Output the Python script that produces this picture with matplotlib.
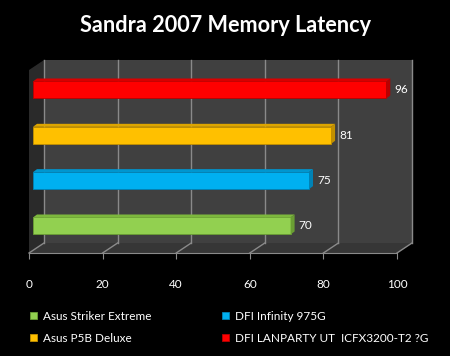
import matplotlib.pyplot as plt
from matplotlib.patches import Polygon, Patch

plt.rcParams["font.family"] = ["Lato", "DejaVu Sans"]

# ── Data ──────────────────────────────────────────────────────────
boards = ["Asus Striker Extreme", "DFI Infinity 975G", "Asus P5B Deluxe",
          "DFI LANPARTY UT  ICFX3200-T2 ?G"]
latency = [70, 75, 81, 96]
colors = ["#92D050", "#00B0F0", "#FFC000", "#FF0000"]
tops = ["#7DB83D", "#0096CF", "#DDA500", "#D80000"]
sides = ["#6A9E33", "#0082B5", "#C29000", "#B80000"]
legend_order = [0, 2, 1, 3]  # column-first: green, yellow | blue, red

xticks = [0, 20, 40, 60, 80, 100]
title = "Sandra 2007 Memory Latency"

# ── Figure geometry (pixels at 100 dpi) ───────────────────────────
W, H = 450, 356
fig = plt.figure(figsize=(W / 100, H / 100), dpi=100, facecolor="black")
ax = fig.add_axes([29 / W, 103 / H, 368 / W, 183 / H])
ax.set_facecolor("none")
YMIN, YMAX = -0.596, 3.441
ax.set_xlim(0, 100)
ax.set_ylim(YMIN, YMAX)

PX_X = 100 / 368
PX_Y = (YMAX - YMIN) / 183
DXW, DYW = 15 * PX_X, 10 * PX_Y    # wall depth
DXB, DYB = 4 * PX_X, 3 * PX_Y      # bar depth
BAR_OFF = 4 * PX_X
BAR_H = 17 * PX_Y

# walls
back = Polygon([(DXW, YMIN + DYW), (100 + DXW, YMIN + DYW),
                (100 + DXW, YMAX + DYW), (DXW, YMAX + DYW)],
               closed=True, fc="#404040", ec="none", clip_on=False, zorder=0)
floor = Polygon([(0, YMIN), (100, YMIN), (100 + DXW, YMIN + DYW), (DXW, YMIN + DYW)],
                closed=True, fc="#363636", ec="none", clip_on=False, zorder=0)
left = Polygon([(0, YMIN), (DXW, YMIN + DYW), (DXW, YMAX + DYW), (0, YMAX)],
               closed=True, fc="#2A2A2A", ec="none", clip_on=False, zorder=0)
for p in (back, floor, left):
    ax.add_patch(p)

for x in xticks:
    ax.plot([x + DXW, x + DXW], [YMIN + DYW, YMAX + DYW], color="#8A8A8A",
            lw=1, clip_on=False, zorder=1)
    ax.plot([x, x + DXW], [YMIN, YMIN + DYW], color="#8A8A8A",
            lw=1, clip_on=False, zorder=1)

# bars
ypos = list(range(len(latency)))
bars = ax.barh(ypos, latency, height=BAR_H, left=BAR_OFF, color=colors,
               edgecolor=sides, lw=0.6, zorder=3)
for y, v, tc, sc in zip(ypos, latency, tops, sides):
    yb, yt = y - BAR_H / 2, y + BAR_H / 2
    xe = BAR_OFF + v
    ax.add_patch(Polygon([(BAR_OFF, yt), (xe, yt), (xe + DXB, yt + DYB),
                          (BAR_OFF + DXB, yt + DYB)], closed=True, fc=tc,
                         ec="none", zorder=3, clip_on=False))
    ax.add_patch(Polygon([(xe, yb), (xe, yt), (xe + DXB, yt + DYB),
                          (xe + DXB, yb + DYB)], closed=True, fc=sc,
                         ec="none", zorder=3, clip_on=False))
    ax.text(xe + DXB + 4 * PX_X, y, str(v), color="white", fontsize=8.5,
            va="center", ha="left", zorder=4)

# axis
for s in ("top", "right", "left"):
    ax.spines[s].set_visible(False)
ax.spines["bottom"].set_color("#8A8A8A")
ax.set_yticks([])
ax.set_xticks(xticks)
ax.tick_params(axis="x", colors="#8A8A8A", length=4, pad=15, labelcolor="white",
               labelsize=8.5)

fig.text(0.5, 1 - 25 / H, title, color="white", fontsize=15.6, fontweight="bold",
         ha="center", va="center")

handles = [Patch(fc=colors[i], ec=sides[i], lw=0.6) for i in legend_order]
labels = [boards[i] for i in legend_order]
fig.legend(handles, labels, ncol=2, loc="upper left",
           bbox_to_anchor=(19 / W, 1 - 300 / H), frameon=False, fontsize=8.5,
           labelcolor="white", handlelength=0.6, handleheight=0.6,
           handletextpad=0.5, columnspacing=6.0, labelspacing=0.95)

fig.savefig("out.png", dpi=100, facecolor="black")
